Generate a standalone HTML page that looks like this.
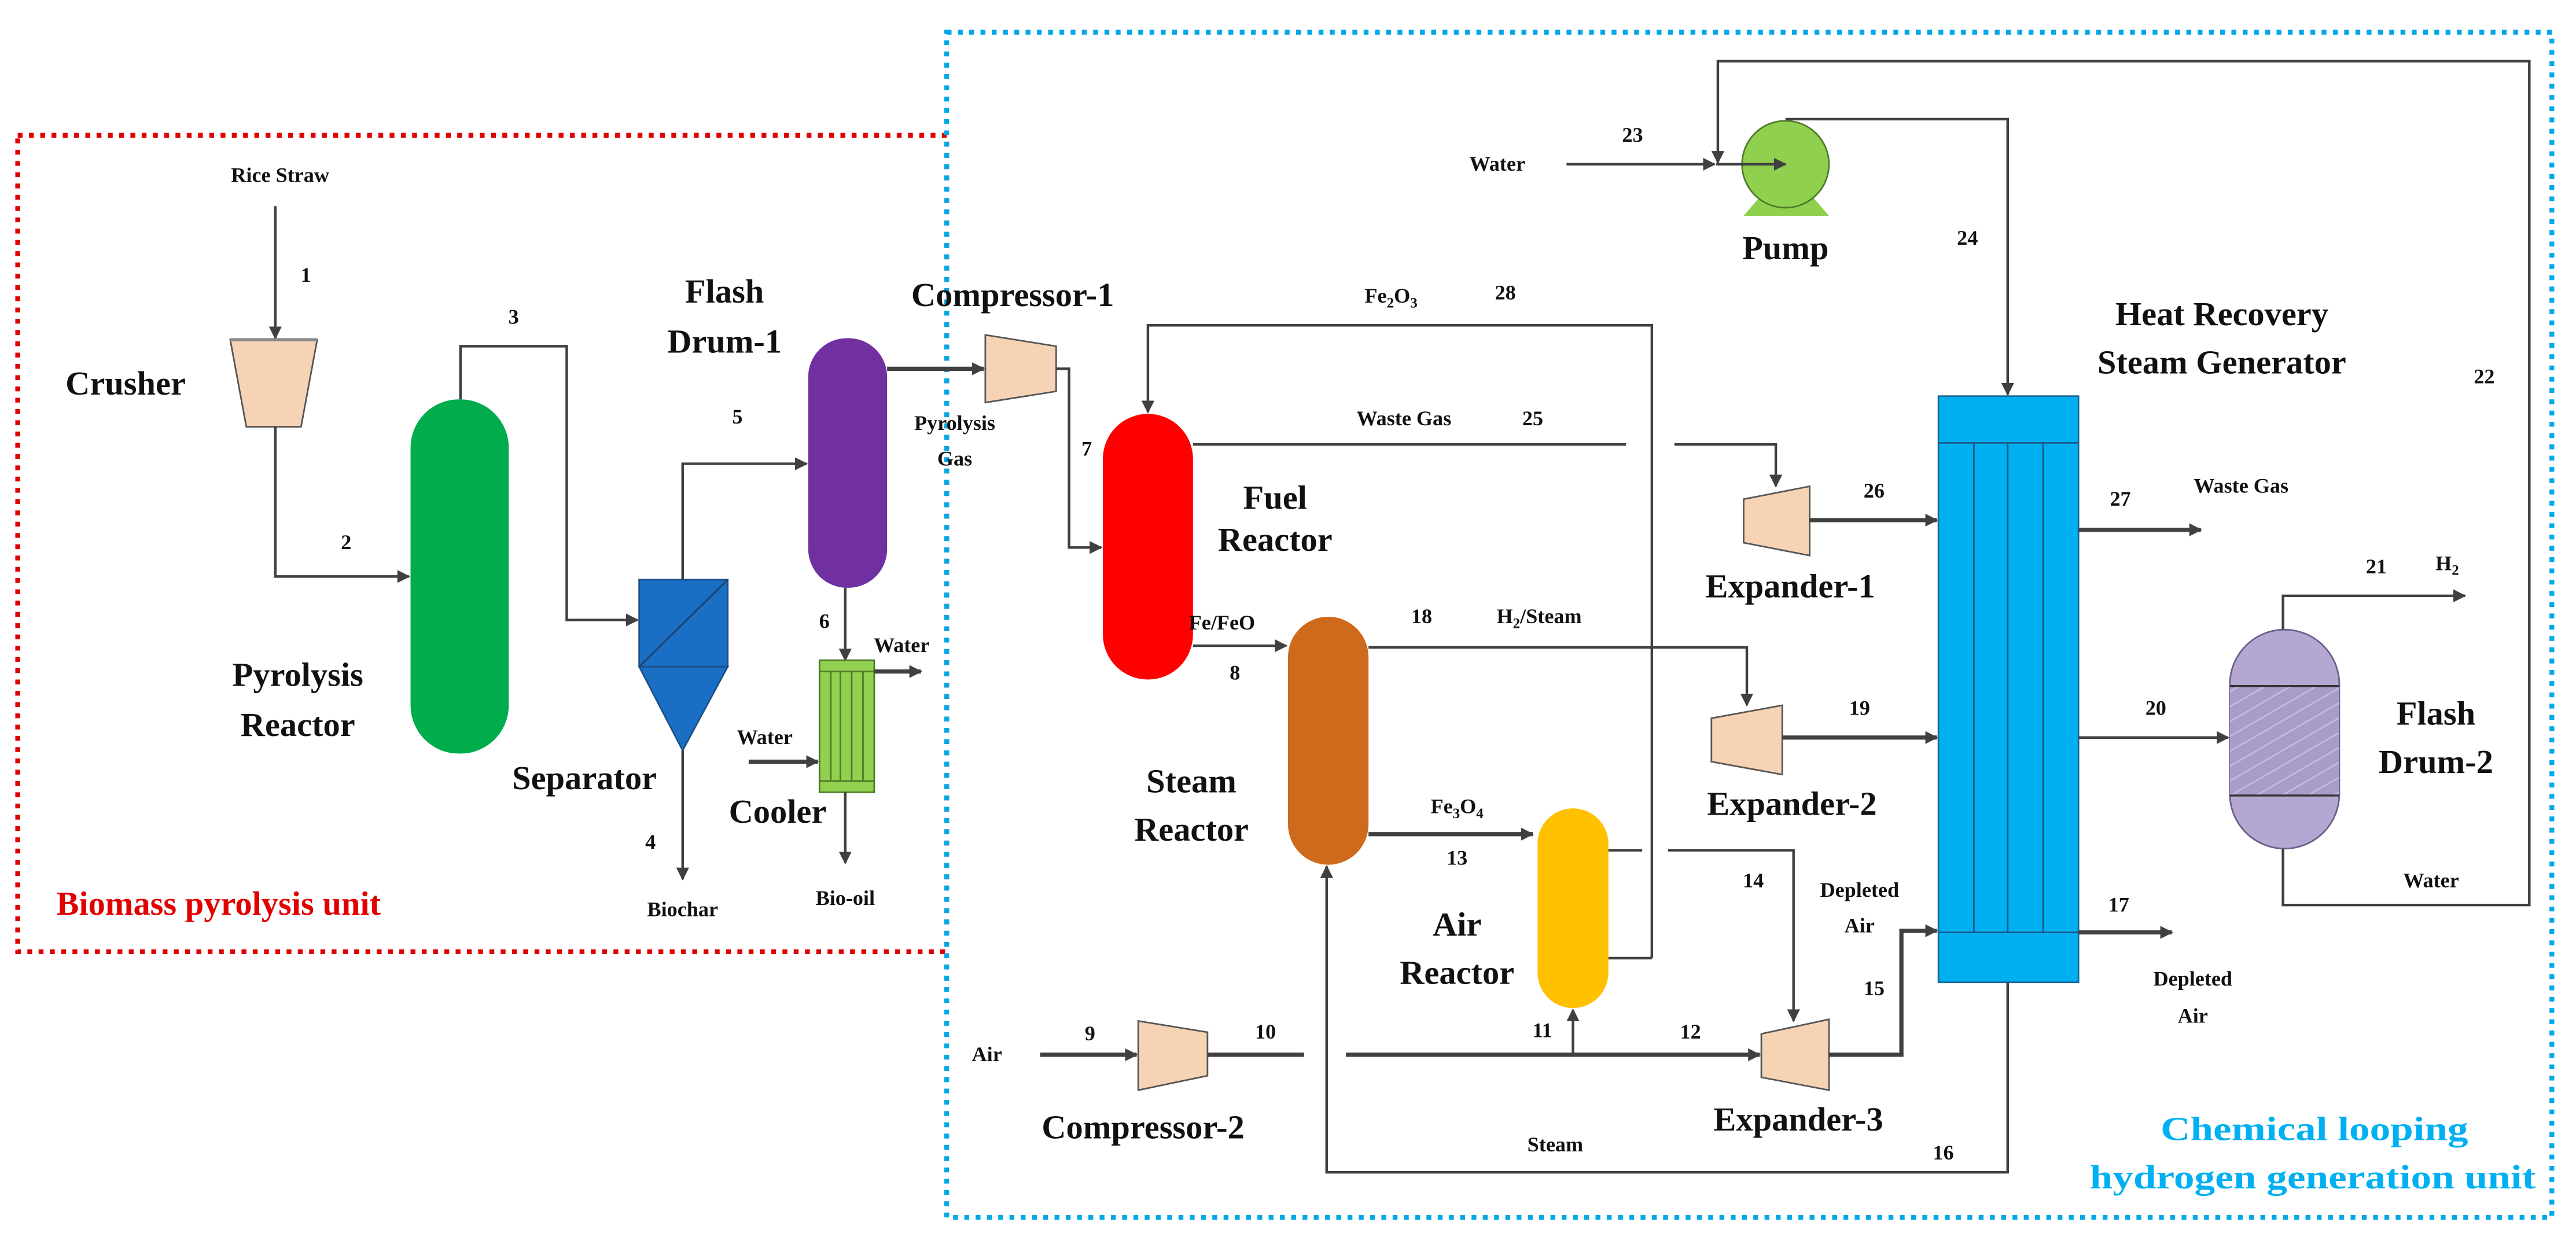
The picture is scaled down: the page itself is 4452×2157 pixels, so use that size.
<!DOCTYPE html>
<html><head><meta charset="utf-8"><style>
html,body{margin:0;padding:0;background:#fff}
svg{display:block}
text{font-family:"Liberation Serif",serif;font-weight:bold;fill:#111}
.n{font-size:13px;text-anchor:middle}
.s{font-size:13px;text-anchor:middle}
.b{font-size:21px;text-anchor:middle}
.l{fill:none;stroke:#404040;stroke-width:1.6}
.t{fill:none;stroke:#404040;stroke-width:2.6}
</style></head><body>
<svg width="4452" height="2157" viewBox="0 0 1600 775" preserveAspectRatio="none" xmlns="http://www.w3.org/2000/svg">
<defs>
<marker id="a" viewBox="0 0 10 10" refX="9" refY="5" markerWidth="8" markerHeight="8" markerUnits="userSpaceOnUse" orient="auto"><path d="M0,0 L10,5 L0,10 z" fill="#404040"/></marker>
<pattern id="h" width="8" height="8" patternUnits="userSpaceOnUse" patternTransform="rotate(60)"><rect width="8" height="8" fill="#a89cc8"/><line x1="0" y1="0" x2="0" y2="8" stroke="#c4bade" stroke-width="2"/></pattern>
</defs>
<rect x="11" y="84" width="577" height="507" fill="none" stroke="#e00000" stroke-width="3" stroke-dasharray="3,4"/>
<rect x="588" y="20" width="997" height="736" fill="none" stroke="#00a8e8" stroke-width="3" stroke-dasharray="3,4"/>
<text x="35" y="568" style="font-size:21px;fill:#e00000">Biomass pyrolysis unit</text>
<text x="1342" y="708" textLength="191" lengthAdjust="spacingAndGlyphs" style="font-size:21px;fill:#00b0f0">Chemical looping</text>
<text x="1298" y="738" textLength="277" lengthAdjust="spacingAndGlyphs" style="font-size:21px;fill:#00b0f0">hydrogen generation unit</text>

<text class="s" x="174" y="113">Rice Straw</text>
<path class="l" d="M171,128 V210" marker-end="url(#a)"/>
<text class="n" x="190" y="175">1</text>
<polygon points="143,211 197,211 187,265 153,265" fill="#f6d3b5" stroke="#555" stroke-width="1"/>
<line x1="143" y1="211" x2="197" y2="211" stroke="#888" stroke-width="2"/>
<text class="b" x="78" y="245">Crusher</text>
<path class="l" d="M171,265 V358 H254" marker-end="url(#a)"/>
<text class="n" x="215" y="341">2</text>
<rect x="255" y="248" width="61" height="220" rx="30" fill="#00ac4c"/>
<text class="b" x="185" y="426">Pyrolysis</text>
<text class="b" x="185" y="457">Reactor</text>
<path class="l" d="M286,248 V215 H352 V385 H396" marker-end="url(#a)"/>
<text class="n" x="319" y="201">3</text>
<rect x="397" y="360" width="55" height="54" fill="#1a6fc4" stroke="#1b4f8a" stroke-width="1"/>
<line x1="397" y1="414" x2="452" y2="360" stroke="#1b3f6a" stroke-width="1"/>
<polygon points="397,414 452,414 424,466" fill="#1a6fc4" stroke="#1b4f8a" stroke-width="1"/>
<text class="b" x="363" y="490">Separator</text>
<path class="l" d="M424,466 V546" marker-end="url(#a)"/>
<text class="n" x="404" y="527">4</text>
<text class="s" x="424" y="569">Biochar</text>
<path class="l" d="M424,360 V288 H501" marker-end="url(#a)"/>
<text class="n" x="458" y="263">5</text>
<rect x="502" y="210" width="49" height="155" rx="24" fill="#7030a0"/>
<text class="b" x="450" y="188">Flash</text>
<text class="b" x="450" y="219">Drum-1</text>
<path class="t" d="M551,229 H611" marker-end="url(#a)"/>
<polygon points="612,208 656,215 656,243 612,250" fill="#f6d3b5" stroke="#555" stroke-width="1"/>
<text class="b" x="629" y="190">Compressor-1</text>
<text class="s" x="593" y="267">Pyrolysis</text>
<text class="s" x="593" y="289">Gas</text>
<path class="l" d="M656,229 H664 V340 H684" marker-end="url(#a)"/>
<text class="n" x="675" y="283">7</text>
<path class="l" d="M525,365 V410" marker-end="url(#a)"/>
<text class="n" x="512" y="390">6</text>
<rect x="509" y="410" width="34" height="82" fill="#92d050" stroke="#4f7a28" stroke-width="1"/>
<line x1="509" y1="417" x2="543" y2="417" stroke="#4f7a28"/>
<line x1="509" y1="485" x2="543" y2="485" stroke="#4f7a28"/>
<line x1="516" y1="417" x2="516" y2="485" stroke="#4f7a28"/>
<line x1="522" y1="417" x2="522" y2="485" stroke="#4f7a28"/>
<line x1="529" y1="417" x2="529" y2="485" stroke="#4f7a28"/>
<line x1="536" y1="417" x2="536" y2="485" stroke="#4f7a28"/>
<path class="t" d="M543,417 H572" marker-end="url(#a)"/>
<text class="s" x="560" y="405">Water</text>
<path class="t" d="M465,473 H508" marker-end="url(#a)"/>
<text class="s" x="475" y="462">Water</text>
<text class="b" x="483" y="511">Cooler</text>
<path class="l" d="M525,492 V536" marker-end="url(#a)"/>
<text class="s" x="525" y="562">Bio-oil</text>

<rect x="685" y="257" width="56" height="165" rx="28" fill="#ff0000"/>
<text class="b" x="792" y="316">Fuel</text>
<text class="b" x="792" y="342">Reactor</text>
<path class="l" d="M1026,595 H999"/>
<path class="l" d="M1026,595 V202 H713 V256" marker-end="url(#a)"/>
<text class="s" x="864" y="188">Fe<tspan font-size="9" dy="3">2</tspan><tspan dy="-3">O</tspan><tspan font-size="9" dy="3">3</tspan></text>
<text class="n" x="935" y="186">28</text>
<path class="l" d="M741,276 H1010"/>
<path class="l" d="M1040,276 H1103 V302" marker-end="url(#a)"/>
<text class="s" x="872" y="264">Waste Gas</text>
<text class="n" x="952" y="264">25</text>
<polygon points="1083,310 1124,302 1124,345 1083,337" fill="#f6d3b5" stroke="#555" stroke-width="1"/>
<text class="b" x="1112" y="371">Expander-1</text>
<path class="t" d="M1124,323 H1203" marker-end="url(#a)"/>
<text class="n" x="1164" y="309">26</text>
<path class="l" d="M741,401 H799" marker-end="url(#a)"/>
<text class="s" x="759" y="391">Fe/FeO</text>
<text class="n" x="767" y="422">8</text>
<rect x="800" y="383" width="50" height="154" rx="25" fill="#cf6a1c"/>
<text class="b" x="740" y="492">Steam</text>
<text class="b" x="740" y="522">Reactor</text>
<path class="l" d="M850,402 H1085 V438" marker-end="url(#a)"/>
<text class="n" x="883" y="387">18</text>
<text class="s" x="956" y="387">H<tspan font-size="9" dy="3">2</tspan><tspan dy="-3">/Steam</tspan></text>
<polygon points="1063,446 1107,438 1107,481 1063,473" fill="#f6d3b5" stroke="#555" stroke-width="1"/>
<text class="b" x="1113" y="506">Expander-2</text>
<path class="t" d="M1107,458 H1203" marker-end="url(#a)"/>
<text class="n" x="1155" y="444">19</text>
<path class="t" d="M850,518 H952" marker-end="url(#a)"/>
<text class="s" x="905" y="505">Fe<tspan font-size="9" dy="3">3</tspan><tspan dy="-3">O</tspan><tspan font-size="9" dy="3">4</tspan></text>
<text class="n" x="905" y="537">13</text>
<rect x="955" y="502" width="44" height="124" rx="22" fill="#ffc000"/>
<text class="b" x="905" y="581">Air</text>
<text class="b" x="905" y="611">Reactor</text>
<path class="l" d="M999,528 H1020"/>
<path class="l" d="M1036,528 H1114 V634" marker-end="url(#a)"/>
<text class="n" x="1089" y="551">14</text>
<text class="s" x="1155" y="557">Depleted</text>
<text class="s" x="1155" y="579">Air</text>
<polygon points="1094,642 1136,633 1136,677 1094,669" fill="#f6d3b5" stroke="#555" stroke-width="1"/>
<text class="b" x="1117" y="702">Expander-3</text>
<text class="s" x="613" y="659">Air</text>
<path class="t" d="M646,655 H706" marker-end="url(#a)"/>
<text class="n" x="677" y="646">9</text>
<polygon points="707,634 750,641 750,668 707,677" fill="#f6d3b5" stroke="#555" stroke-width="1"/>
<text class="b" x="710" y="707">Compressor-2</text>
<path class="t" d="M750,655 H810"/>
<text class="n" x="786" y="645">10</text>
<path class="t" d="M836,655 H1093" marker-end="url(#a)"/>
<text class="n" x="1050" y="645">12</text>
<path class="l" d="M977,655 V627" marker-end="url(#a)"/>
<text class="n" x="958" y="644">11</text>
<path class="t" d="M1136,655 H1181 V578 H1203" marker-end="url(#a)"/>
<text class="n" x="1164" y="618">15</text>
<rect x="1204" y="246" width="87" height="364" fill="#00b0f0" stroke="#1a6a9a" stroke-width="1"/>
<line x1="1204" y1="275" x2="1291" y2="275" stroke="#1a5a8a" stroke-width="1"/>
<line x1="1204" y1="579" x2="1291" y2="579" stroke="#1a5a8a" stroke-width="1"/>
<line x1="1226" y1="275" x2="1226" y2="579" stroke="#1a5a8a" stroke-width="1"/>
<line x1="1247" y1="275" x2="1247" y2="579" stroke="#1a5a8a" stroke-width="1"/>
<line x1="1269" y1="275" x2="1269" y2="579" stroke="#1a5a8a" stroke-width="1"/>
<text class="b" x="1380" y="202">Heat Recovery</text>
<text class="b" x="1380" y="232">Steam Generator</text>
<path class="t" d="M1291,329 H1367" marker-end="url(#a)"/>
<text class="n" x="1317" y="314">27</text>
<text class="s" x="1392" y="306">Waste Gas</text>
<path class="l" d="M1291,458 H1384" marker-end="url(#a)"/>
<text class="n" x="1339" y="444">20</text>
<path class="t" d="M1291,579 H1349" marker-end="url(#a)"/>
<text class="n" x="1316" y="566">17</text>
<text class="s" x="1362" y="612">Depleted</text>
<text class="s" x="1362" y="635">Air</text>
<path class="l" d="M1247,610 V728 H824 V538" marker-end="url(#a)"/>
<text class="n" x="1207" y="720">16</text>
<text class="s" x="966" y="715">Steam</text>
<rect x="1385" y="391" width="68" height="136" rx="34" fill="#b4a8d2" stroke="#6a5f8a" stroke-width="1"/>
<rect x="1385" y="426" width="68" height="68" fill="url(#h)"/>
<line x1="1385" y1="426" x2="1453" y2="426" stroke="#333" stroke-width="1.2"/>
<line x1="1385" y1="494" x2="1453" y2="494" stroke="#333" stroke-width="1.2"/>
<text class="b" x="1513" y="450">Flash</text>
<text class="b" x="1513" y="480">Drum-2</text>
<path class="l" d="M1418,391 V370 H1531" marker-end="url(#a)"/>
<text class="n" x="1476" y="356">21</text>
<text class="s" x="1520" y="354">H<tspan font-size="9" dy="3">2</tspan></text>
<path class="l" d="M1418,527 V562 H1571 V38 H1067 V101" marker-end="url(#a)"/>
<text class="s" x="1510" y="551">Water</text>
<text class="n" x="1543" y="238">22</text>
<polygon points="1083,134 1136,134 1124,120 1095,120" fill="#8fd14f"/>
<circle cx="1109" cy="102" r="27" fill="#8fd14f" stroke="#4f7a28" stroke-width="1"/>
<path class="l" d="M973,102 H1065" marker-end="url(#a)"/>
<path class="l" d="M1066,102 H1109" marker-end="url(#a)"/>
<text class="s" x="930" y="106">Water</text>
<text class="n" x="1014" y="88">23</text>
<text class="b" x="1109" y="161">Pump</text>
<path class="l" d="M1109,74 H1247 V245" marker-end="url(#a)"/>
<text class="n" x="1222" y="152">24</text>
</svg>
</body></html>
